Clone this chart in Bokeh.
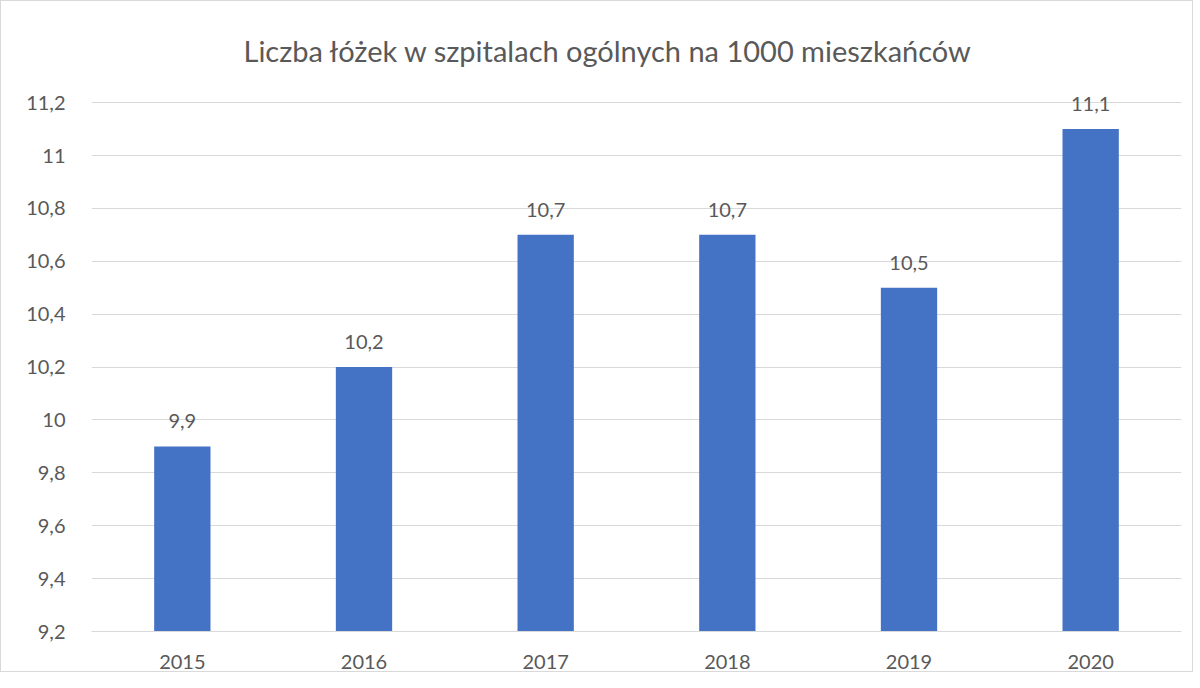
from bokeh.plotting import figure
from bokeh.models import FixedTicker, ColumnDataSource, Range1d, FactorRange
from bokeh.core.properties import value
from bokeh.embed import file_html
from bokeh.resources import INLINE

years = ["2015", "2016", "2017", "2018", "2019", "2020"]
beds = [9.9, 10.2, 10.7, 10.7, 10.5, 11.1]
bar_labels = ["9,9", "10,2", "10,7", "10,7", "10,5", "11,1"]
tick_values = [9.2, 9.4, 9.6, 9.8, 10.0, 10.2, 10.4, 10.6, 10.8, 11.0, 11.2]
tick_labels = ["9,2", "9,4", "9,6", "9,8", "10", "10,2", "10,4", "10,6", "10,8", "11", "11,2"]
title_text = "Liczba łóżek w szpitalach ogólnych na 1000 mieszkańców"

FONT = "Lato"
TXT = "#595959"
GRID = "#d9d9d9"
BAR = "#4472c4"

src = ColumnDataSource(dict(year=years, beds=beds, lab=bar_labels))

# y range extended a little above 11.2 (no gridline there) so the top value label is not clipped
p = figure(
    x_range=FactorRange(*years, range_padding=0),
    y_range=Range1d(9.2, 11.246),
    frame_width=1090, frame_height=541,
    min_border_left=90, min_border_right=11, min_border_top=89, min_border_bottom=40,
    output_backend="svg", toolbar_location=None,
    title=title_text,
    styles={"border": "1px solid #d9d9d9"},
)
p.title.align = "left"
p.title.offset = 152
p.title.text_font = FONT
p.title.text_font_size = "29px"
p.title.text_font_style = "normal"
p.title.text_color = TXT
p.title.standoff = 46

p.vbar(x="year", top="beds", bottom=9.2, width=0.31, source=src, fill_color=BAR, line_color=None)
p.text(x="year", y="beds", text="lab", source=src, text_align="center", text_baseline="alphabetic",
       y_offset=-25, text_font=value(FONT), text_font_size="20px", text_color=TXT)

p.yaxis.ticker = FixedTicker(ticks=tick_values)
p.yaxis.major_label_overrides = dict(zip(tick_values, tick_labels))
p.yaxis.axis_line_color = None
p.yaxis.major_tick_line_color = None
p.yaxis.minor_tick_line_color = None
p.yaxis.major_label_standoff = 20
p.xaxis.axis_line_color = GRID
p.xaxis.major_tick_line_color = None
p.xaxis.major_label_standoff = 17
for ax in (p.xaxis, p.yaxis):
    ax.major_label_text_font = FONT
    ax.major_label_text_font_size = "20px"
    ax.major_label_text_color = TXT

p.ygrid.grid_line_color = GRID
p.ygrid.ticker = FixedTicker(ticks=tick_values)
p.xgrid.grid_line_color = None
p.outline_line_color = None

open("out.html", "w").write(file_html(p, INLINE))
